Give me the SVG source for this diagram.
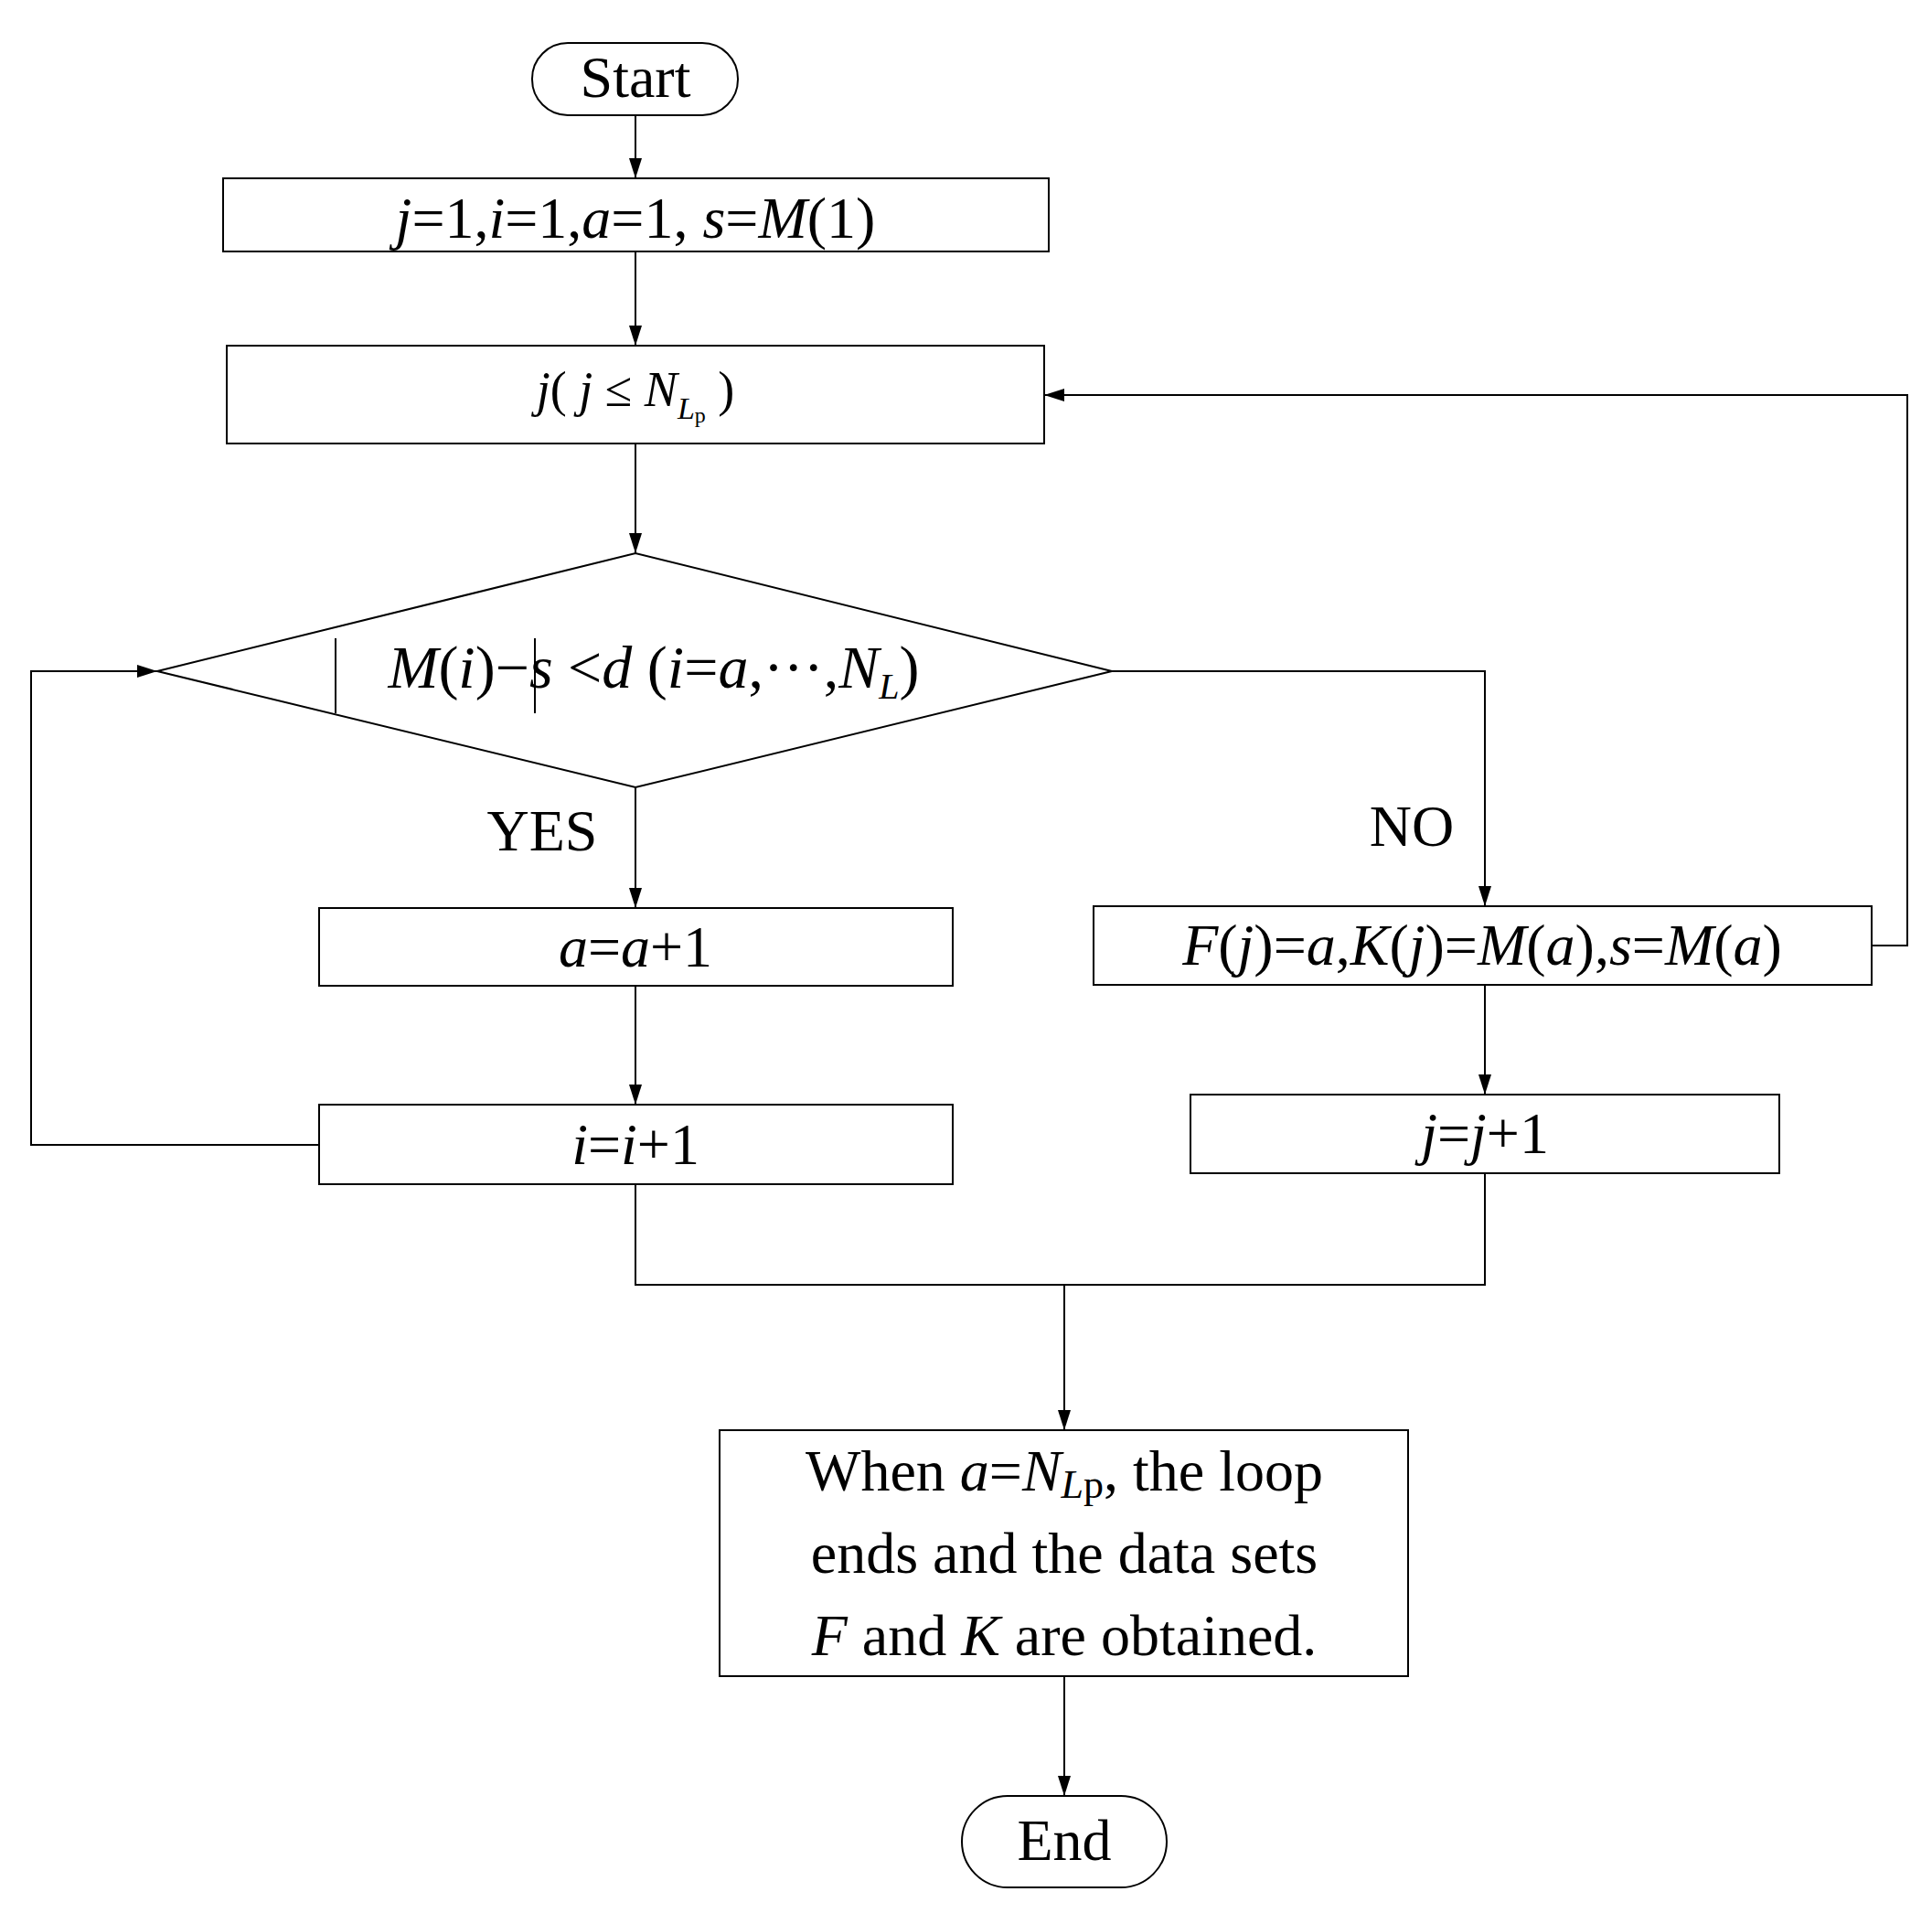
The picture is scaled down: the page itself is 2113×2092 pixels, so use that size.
<svg xmlns="http://www.w3.org/2000/svg" width="2113" height="2092" viewBox="0 0 2113 2092">
<style>
.s{fill:#fff;stroke:#000;stroke-width:2}
.l{fill:none;stroke:#000;stroke-width:2}
text{font-family:"Liberation Serif",serif;fill:#000;text-anchor:middle}
.i{font-style:italic}
</style>
<defs><marker id="ar" markerWidth="22" markerHeight="14" refX="22" refY="7" orient="auto" markerUnits="userSpaceOnUse"><path d="M0,0 L22,7 L0,14 Z" fill="#000"/></marker></defs>
<rect width="2113" height="2092" fill="#fff"/>
<g id="connectors">
<path class="l" d="M695,126 V195" marker-end="url(#ar)"/>
<path class="l" d="M695,275 V378" marker-end="url(#ar)"/>
<path class="l" d="M695,485 V605" marker-end="url(#ar)"/>
<path class="l" d="M695,861 V993" marker-end="url(#ar)"/>
<path class="l" d="M695,1078 V1208" marker-end="url(#ar)"/>
<path class="l" d="M349,1252 H34 V734 H172" marker-end="url(#ar)"/>
<path class="l" d="M1216,734 H1624 V991" marker-end="url(#ar)"/>
<path class="l" d="M1624,1077 V1197" marker-end="url(#ar)"/>
<path class="l" d="M2047,1034 H2086 V432 H1142" marker-end="url(#ar)"/>
<path class="l" d="M695,1295 V1405 H1624 V1283"/>
<path class="l" d="M1164,1405 V1564" marker-end="url(#ar)"/>
<path class="l" d="M1164,1833 V1964" marker-end="url(#ar)"/>
</g>
<g id="start"><rect class="s" x="582" y="47" width="225" height="79" rx="39"/><text x="695" y="106" font-size="64">Start</text></g>
<g id="init"><rect class="s" x="244" y="195" width="903" height="80"/><text x="695" y="260" font-size="64"><tspan class="i">j</tspan>=1,<tspan class="i">i</tspan>=1,<tspan class="i">a</tspan>=1, <tspan class="i">s</tspan>=<tspan class="i">M</tspan>(1)</text></g>
<g id="jloop"><rect class="s" x="248" y="378" width="894" height="107"/><text x="695" y="444" font-size="54"><tspan class="i">j</tspan>( <tspan class="i">j</tspan> ≤ <tspan class="i">N</tspan><tspan class="i" font-size="34" dy="14">L</tspan><tspan font-size="24" dy="4">p</tspan><tspan dy="-18"> )</tspan></text></g>
<g id="decision"><polygon class="s" points="172,734 695,605 1216,734 695,861"/><path class="l" d="M367,698 V780 M585,698 V780"/><text x="715" y="752" font-size="66"><tspan class="i">M</tspan>(<tspan class="i">i</tspan>)−<tspan class="i">s</tspan>  &lt;<tspan class="i">d</tspan> (<tspan class="i">i</tspan>=<tspan class="i">a</tspan>,···,<tspan class="i">N</tspan><tspan class="i" font-size="40" dy="12">L</tspan><tspan dy="-12">)</tspan></text></g>
<text x="593" y="930" font-size="64">YES</text>
<text x="1544" y="925" font-size="64">NO</text>
<g id="inca"><rect class="s" x="349" y="993" width="693" height="85"/><text x="695" y="1057" font-size="64"><tspan class="i">a</tspan>=<tspan class="i">a</tspan>+1</text></g>
<g id="inci"><rect class="s" x="349" y="1208" width="693" height="87"/><text x="695" y="1273" font-size="64"><tspan class="i">i</tspan>=<tspan class="i">i</tspan>+1</text></g>
<g id="assign"><rect class="s" x="1196" y="991" width="851" height="86"/><text x="1621" y="1055" font-size="64"><tspan class="i">F</tspan>(<tspan class="i">j</tspan>)=<tspan class="i">a</tspan>,<tspan class="i">K</tspan>(<tspan class="i">j</tspan>)=<tspan class="i">M</tspan>(<tspan class="i">a</tspan>),<tspan class="i">s</tspan>=<tspan class="i">M</tspan>(<tspan class="i">a</tspan>)</text></g>
<g id="incj"><rect class="s" x="1302" y="1197" width="644" height="86"/><text x="1624" y="1261" font-size="64"><tspan class="i">j</tspan>=<tspan class="i">j</tspan>+1</text></g>
<g id="final"><rect class="s" x="787" y="1564" width="753" height="269"/>
<text x="1164" y="1630" font-size="64">When <tspan class="i">a</tspan>=<tspan class="i">N</tspan><tspan class="i" font-size="44" dy="8">L</tspan><tspan font-size="44">p</tspan><tspan dy="-8">, the loop</tspan></text>
<text x="1164" y="1720" font-size="64">ends and the data sets</text>
<text x="1164" y="1810" font-size="64"><tspan class="i">F</tspan> and <tspan class="i">K</tspan> are obtained.</text></g>
<g id="end"><rect class="s" x="1052" y="1964" width="224" height="100" rx="50"/><text x="1164" y="2034" font-size="64">End</text></g>
</svg>
